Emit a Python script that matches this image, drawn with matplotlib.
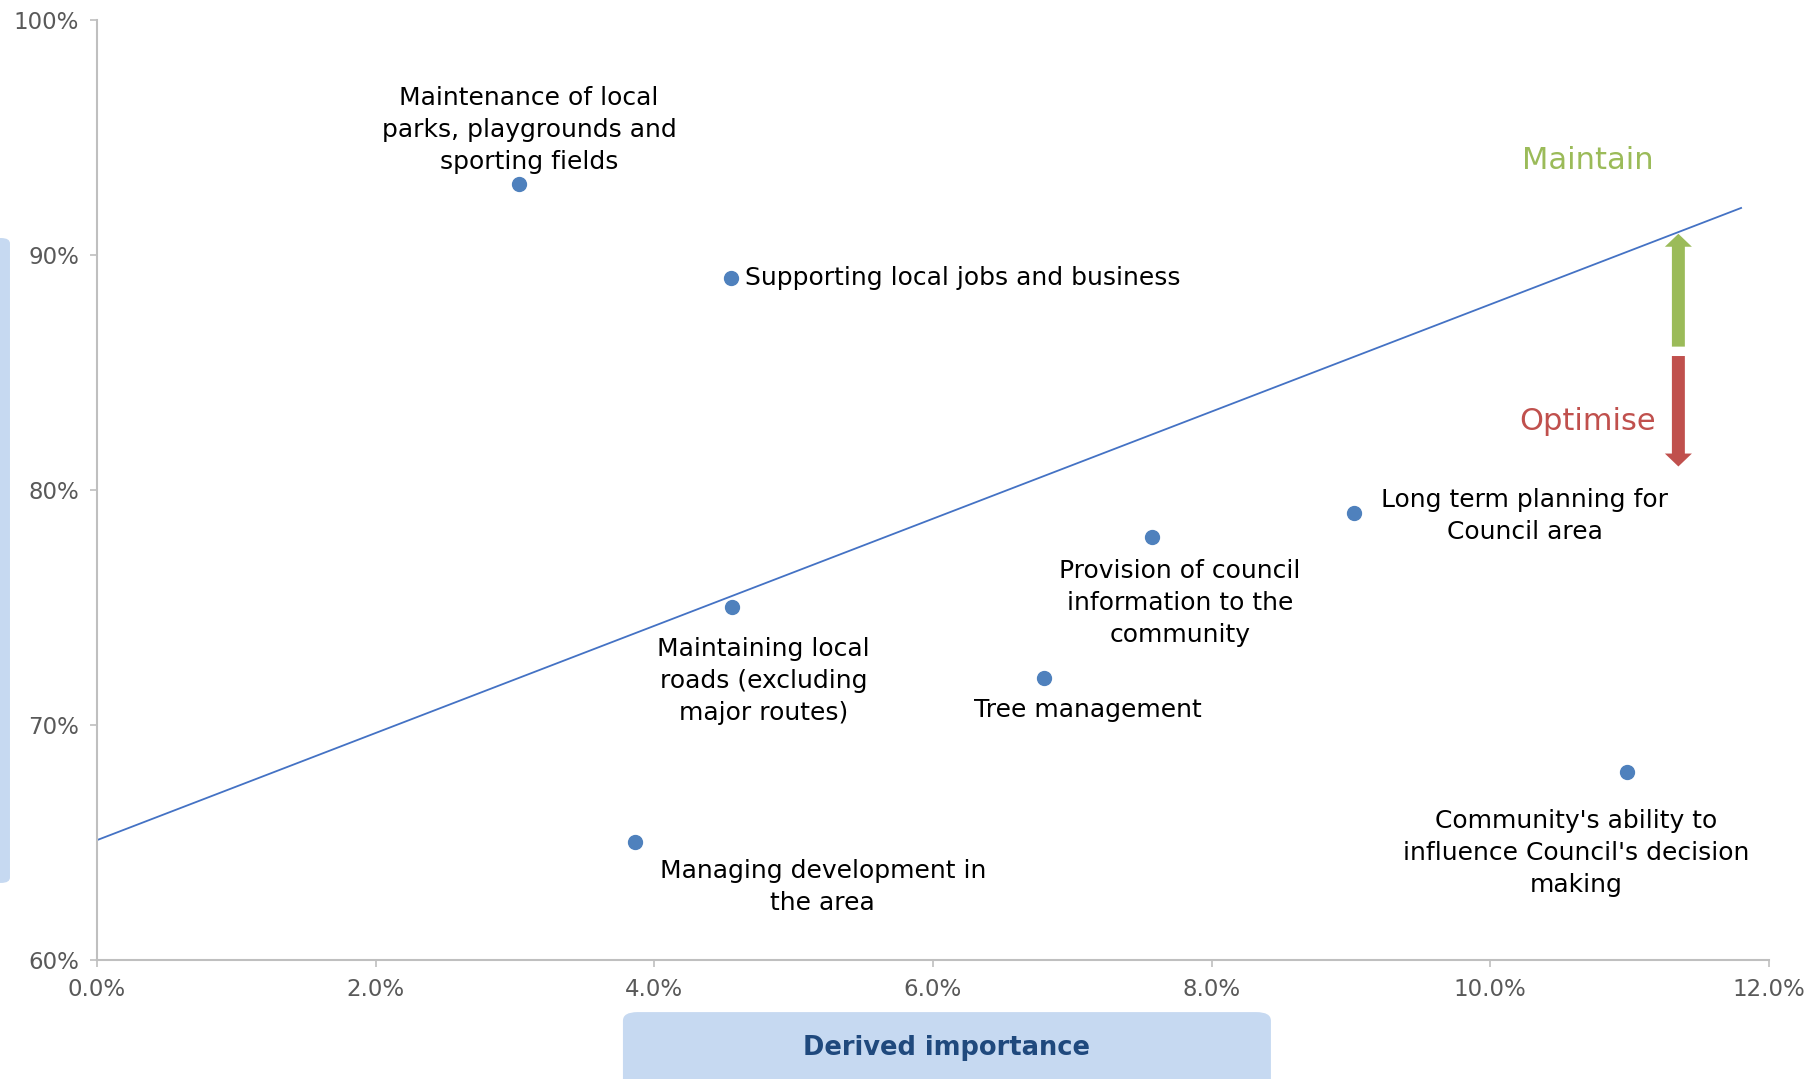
import matplotlib
matplotlib.use("Agg")
import matplotlib.pyplot as plt
from matplotlib.patches import FancyBboxPatch, FancyArrow

# importance (%) vs satisfaction (%)
labels = [
    "Maintenance of local\nparks, playgrounds and\nsporting fields",
    "Supporting local jobs and business",
    "Maintaining local\nroads (excluding\nmajor routes)",
    "Managing development in\nthe area",
    "Tree management",
    "Provision of council\ninformation to the\ncommunity",
    "Long term planning for\nCouncil area",
    "Community's ability to\ninfluence Council's decision\nmaking",
]
importance = [3.03, 4.55, 4.56, 3.86, 6.80, 7.57, 9.02, 10.98]
satisfaction = [93.0, 89.0, 75.0, 65.0, 72.0, 78.0, 79.0, 68.0]

trend_x = [0.0, 11.8]
trend_y = [65.1, 92.0]

x_ticks = [0, 2, 4, 6, 8, 10, 12]
y_ticks = [60, 70, 80, 90, 100]

# label offsets in pixels (dx, dy, ha)
offsets = [
    (10, 54, "center"),
    (14, 0, "left"),
    (31, -74, "center"),
    (188, -45, "center"),
    (43, -32, "center"),
    (28, -66, "center"),
    (171, -3, "center"),
    (-51, -81, "center"),
]

blue = "#4F81BD"
grey = "#BFBFBF"
txt = "#595959"

fig = plt.figure(figsize=(18.13, 10.79), dpi=100)
ax = fig.add_axes([0.0535, 0.1103, 0.9222, 0.8712])

ax.plot(trend_x, trend_y, color="#4472C4", lw=1.3, zorder=2)
ax.scatter(importance, satisfaction, s=100, color=blue, zorder=3)

for lab, x, y, (dx, dy, ha) in zip(labels, importance, satisfaction, offsets):
    ax.annotate(lab, (x, y), xytext=(dx, dy), textcoords="offset pixels",
                ha=ha, va="center", fontsize=18, color="black",
                linespacing=1.42)

ax.set_xlim(0, 12)
ax.set_ylim(60, 100)
ax.set_xticks(x_ticks)
ax.set_xticklabels([f"{v:.1f}%" for v in x_ticks])
ax.set_yticks(y_ticks)
ax.set_yticklabels([f"{v}%" for v in y_ticks])
ax.tick_params(colors=grey, labelcolor=txt, labelsize=16.5, length=5,
               width=1.2, pad=8)
for s in ["top", "right"]:
    ax.spines[s].set_visible(False)
for s in ["left", "bottom"]:
    ax.spines[s].set_color(grey)
    ax.spines[s].set_linewidth(1.5)

# maintain / optimise arrows
ax.add_patch(FancyArrow(11.35, 86.1, 0, 4.8, width=0.093, head_width=0.194,
                        head_length=0.55, length_includes_head=True,
                        color="#9BBB59", lw=0))
ax.add_patch(FancyArrow(11.35, 85.7, 0, -4.7, width=0.093, head_width=0.194,
                        head_length=0.55, length_includes_head=True,
                        color="#C0504D", lw=0))
ax.text(10.7, 94.0, "Maintain", color="#9BBB59", fontsize=22,
        ha="center", va="center")
ax.text(10.7, 82.9, "Optimise", color="#C0504D", fontsize=22,
        ha="center", va="center")

# axis title boxes
fig.patches.append(FancyBboxPatch((0.3436, -0.05), 0.3574, 0.112,
                                  boxstyle="round,pad=0,rounding_size=0.008",
                                  transform=fig.transFigure, fc="#C6D9F1",
                                  ec="none"))
fig.text(0.522, 0.029, "Derived importance", fontsize=18.5, fontweight="bold",
         color="#1F497D", ha="center", va="center")
fig.patches.append(FancyBboxPatch((-0.01, 0.1817), 0.0155, 0.5977,
                                  boxstyle="round,pad=0,rounding_size=0.005",
                                  transform=fig.transFigure, fc="#C6D9F1",
                                  ec="none"))

fig.savefig("out.png", dpi=100)
